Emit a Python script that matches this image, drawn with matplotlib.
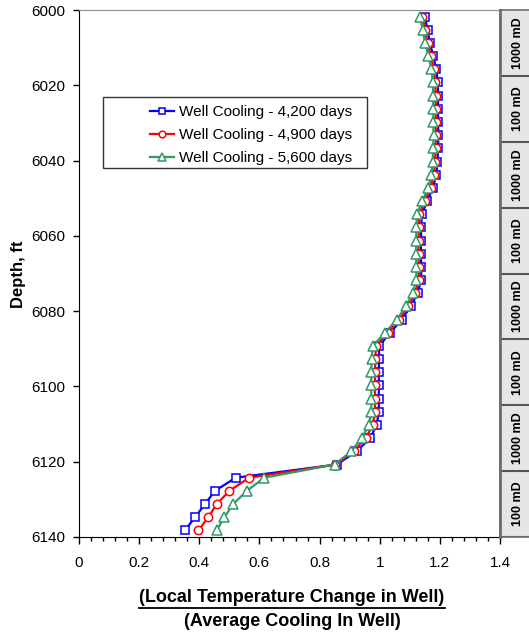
import matplotlib
matplotlib.use('Agg')
import matplotlib.pyplot as plt
from matplotlib.lines import Line2D
from matplotlib.patches import Rectangle
from matplotlib.ticker import MultipleLocator, FuncFormatter

plt.rcParams['font.family'] = ['Liberation Sans', 'DejaVu Sans']

# cell-centre depths of the well model, ft
depth = [6001.75, 6005.25, 6008.75, 6012.25, 6015.75, 6019.25, 6022.75, 6026.25,
         6029.75, 6033.25, 6036.75, 6040.25, 6043.75, 6047.25, 6050.75, 6054.25,
         6057.75, 6061.25, 6064.75, 6068.25, 6071.75, 6075.25, 6078.75, 6082.25,
         6085.75, 6089.25, 6092.75, 6096.25, 6099.75, 6103.25, 6106.75, 6110.25,
         6113.75, 6117.25, 6120.75, 6124.25, 6127.75, 6131.25, 6134.75, 6138.25]

cool_4200 = [1.150, 1.159, 1.167, 1.178, 1.188, 1.193, 1.194, 1.194, 1.194, 1.195,
             1.194, 1.192, 1.188, 1.177, 1.158, 1.140, 1.138, 1.137, 1.137, 1.138,
             1.138, 1.126, 1.103, 1.073, 1.035, 0.998, 0.998, 0.997, 0.997, 0.997,
             0.997, 0.990, 0.968, 0.923, 0.857, 0.521, 0.452, 0.419, 0.386, 0.352]

cool_4900 = [1.142, 1.151, 1.159, 1.170, 1.180, 1.185, 1.186, 1.186, 1.186, 1.187,
             1.186, 1.184, 1.180, 1.169, 1.150, 1.132, 1.130, 1.129, 1.129, 1.130,
             1.130, 1.118, 1.095, 1.065, 1.026, 0.988, 0.985, 0.984, 0.984, 0.984,
             0.984, 0.977, 0.953, 0.914, 0.852, 0.566, 0.500, 0.458, 0.430, 0.397]

cool_5600 = [1.134, 1.143, 1.151, 1.162, 1.172, 1.177, 1.178, 1.178, 1.178, 1.179,
             1.178, 1.176, 1.172, 1.161, 1.142, 1.124, 1.122, 1.121, 1.121, 1.122,
             1.122, 1.110, 1.087, 1.057, 1.017, 0.977, 0.973, 0.972, 0.972, 0.972,
             0.972, 0.964, 0.940, 0.905, 0.850, 0.616, 0.558, 0.513, 0.483, 0.458]

labels = ['Well Cooling - 4,200 days', 'Well Cooling - 4,900 days', 'Well Cooling - 5,600 days']

# permeability layers down the well
layer_top = [6000, 6017.5, 6035, 6052.5, 6070, 6087.5, 6105, 6122.5]
layer_base = [6017.5, 6035, 6052.5, 6070, 6087.5, 6105, 6122.5, 6140]
layer_perm = ['1000 mD', '100 mD', '1000 mD', '100 mD', '1000 mD', '100 mD', '1000 mD', '100 mD']

W, H = 529, 634
fig = plt.figure(figsize=(W / 100, H / 100), dpi=100)
ax = fig.add_axes([79 / W, 1 - 537 / H, 421 / W, 527 / H])

styles = [('#0000ff', 's', 6.0), ('#ff0000', 'o', 6.0), ('#339966', '^', 6.5)]
for vals, lab, (col, mk, ms) in zip([cool_4200, cool_4900, cool_5600], labels, styles):
    ax.plot(vals, depth, color=col, lw=1.6, marker=mk, ms=ms, mfc='white',
            mec=col, mew=1.1, label=lab)

ax.set_xlim(0, 1.4)
ax.set_ylim(6140, 6000)
ax.xaxis.set_major_locator(MultipleLocator(0.2))
ax.xaxis.set_minor_locator(MultipleLocator(0.04))
ax.yaxis.set_major_locator(MultipleLocator(20))
ax.xaxis.set_major_formatter(FuncFormatter(lambda v, p: '%g' % round(v, 2)))
ax.tick_params(axis='x', which='major', length=5, width=1, pad=9, labelsize=11)
ax.tick_params(axis='x', which='minor', length=3, width=1)
ax.tick_params(axis='y', length=4, width=1, pad=6, labelsize=11)

ax.spines['top'].set_color('#8c8c8c')
ax.spines['top'].set_linewidth(0.8)
ax.spines['right'].set_color('#6e6e6e')
ax.spines['right'].set_linewidth(2)

# permeability strip on the right
sx = fig.add_axes([500 / W, 1 - 537 / H, 36 / W, 527 / H], facecolor='#e6e6e6')
sx.set_xlim(0, 1)
sx.set_ylim(6140, 6000)
sx.set_xticks([])
sx.set_yticks([])
for s in sx.spines.values():
    s.set_color('#6e6e6e')
    s.set_linewidth(1.2)
sx.spines['left'].set_linewidth(2)
for top, base, perm in zip(layer_top, layer_base, layer_perm):
    sx.axhline(base, color='#555555', lw=1.5)
    sx.text(0.5, (top + base) / 2, perm, rotation=90, ha='center', va='center',
            fontsize=9, fontweight='bold')

# legend with a wide box, handles indented
ax.add_patch(Rectangle((103 / W, 1 - 168 / H), 264 / W, 71 / H, transform=fig.transFigure,
                       facecolor='white', edgecolor='#333333', lw=1, clip_on=False, zorder=4))
ax.legend(loc='center left', bbox_to_anchor=(142 / W, 1 - 135 / H),
          bbox_transform=fig.transFigure, frameon=False, borderpad=0, fontsize=11,
          handlelength=1.6, handletextpad=0.3, labelspacing=0.58, markerscale=0.8)

fig.text(18 / W, 1 - 274 / H, 'Depth, ft', rotation=90, ha='center', va='center',
         fontsize=12, fontweight='bold')
t1 = fig.text(292 / W, 1 - 598 / H, '(Local Temperature Change in Well)', ha='center',
              va='center', fontsize=13, fontweight='bold')
fig.text(292 / W, 1 - 622 / H, '(Average Cooling In Well)', ha='center', va='center',
         fontsize=13, fontweight='bold')

# underline the first x-label line
fig.canvas.draw()
bb = t1.get_window_extent()
fig.add_artist(Line2D([bb.x0 / W, bb.x1 / W], [(bb.y0 - 1) / H, (bb.y0 - 1) / H],
                      transform=fig.transFigure, color='black', lw=1.3))

fig.savefig('out.png', dpi=100)
